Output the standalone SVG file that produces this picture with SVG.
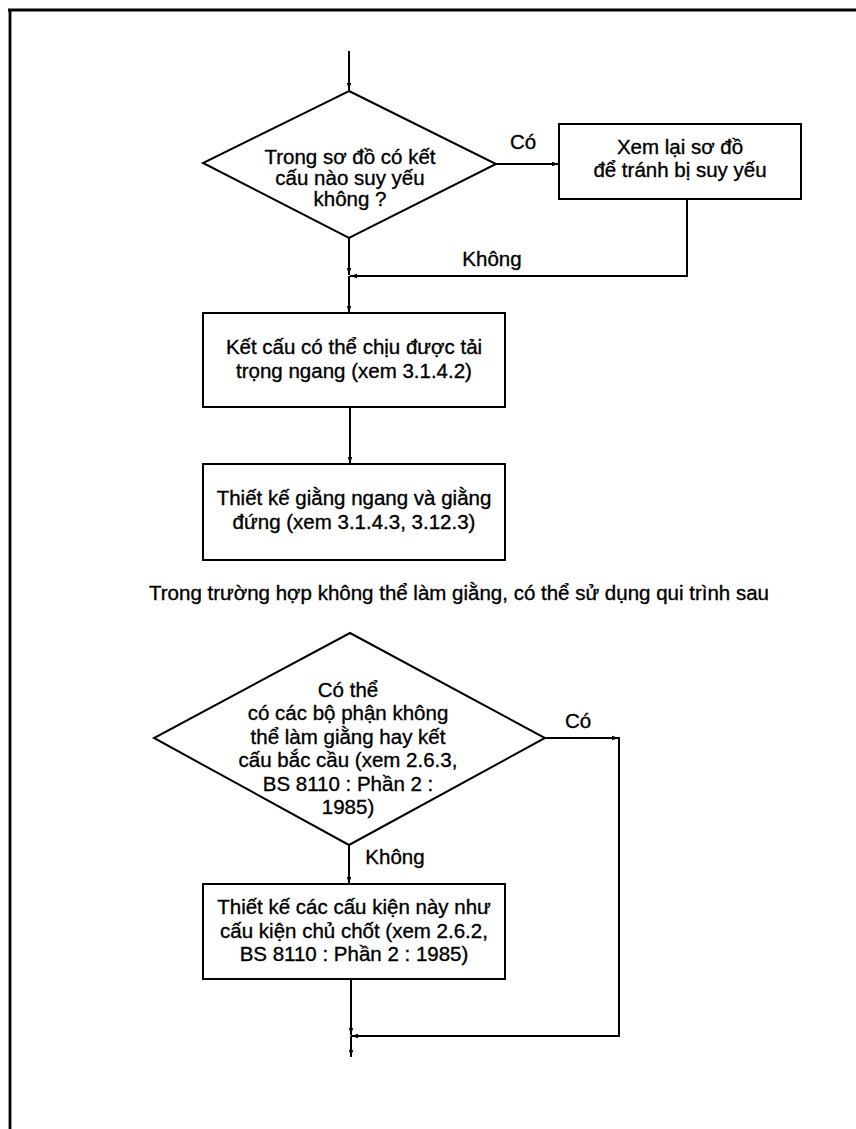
<svg xmlns="http://www.w3.org/2000/svg" width="856" height="1129" viewBox="0 0 856 1129">
<defs>
<marker id="arr" markerWidth="8" markerHeight="6" refX="7" refY="3" orient="auto" markerUnits="userSpaceOnUse">
<path d="M0,0.8 L7,3 L0,5.2 Z" fill="#000"/>
</marker>
<style>
.shape{fill:#fff;stroke:#000;stroke-width:2}
.conn{fill:none;stroke:#000;stroke-width:2}
.t{font-family:"Liberation Sans",Arial,sans-serif;font-size:20.5px;fill:#000;stroke:#000;stroke-width:0.35;text-anchor:middle}
.frame{fill:none;stroke:#000;stroke-width:2.8}
</style>
</defs>
<rect width="856" height="1129" fill="#fff"/>
<g id="frame">
<path class="frame" d="M8,10 H856 M10,9 V1129"/>
</g>
<g id="connectors">
<path class="conn" d="M349,51 V90" marker-end="url(#arr)"/>
<path class="conn" d="M496,164 H559" marker-end="url(#arr)"/>
<path class="conn" d="M687,199 V276 H350" marker-end="url(#arr)"/>
<path class="conn" d="M349,238 V275" marker-end="url(#arr)"/>
<path class="conn" d="M349,276 V313" marker-end="url(#arr)"/>
<path class="conn" d="M350,407 V464" marker-end="url(#arr)"/>
<path class="conn" d="M545,738 H619" marker-end="url(#arr)"/>
<path class="conn" d="M619,737 V1036 H351" marker-end="url(#arr)"/>
<path class="conn" d="M349,845 V884" marker-end="url(#arr)"/>
<path class="conn" d="M351,979 V1035" marker-end="url(#arr)"/>
<path class="conn" d="M351,1036 V1057" marker-end="url(#arr)"/>
</g>
<g id="labels">
<text class="t" x="523" y="149">Có</text>
<text class="t" x="492" y="266">Không</text>
<text class="t" x="578" y="728">Có</text>
<text class="t" x="395" y="864">Không</text>
</g>
<g id="decision1">
<polygon class="shape" points="349,91 496,164 349,238 203,163"/>
<text class="t" x="350" y="164">Trong sơ đồ có kết</text>
<text class="t" x="350" y="185">cấu nào suy yếu</text>
<text class="t" x="350" y="206">không ?</text>
</g>
<g id="review">
<rect class="shape" x="559" y="124" width="242" height="75"/>
<text class="t" x="680" y="154">Xem lại sơ đồ</text>
<text class="t" x="680" y="177">để tránh bị suy yếu</text>
</g>
<g id="lateral">
<rect class="shape" x="203" y="313" width="302" height="94"/>
<text class="t" x="354" y="354">Kết cấu có thể chịu được tải</text>
<text class="t" x="354" y="378">trọng ngang (xem 3.1.4.2)</text>
</g>
<g id="bracing">
<rect class="shape" x="203" y="464" width="302" height="96"/>
<text class="t" x="354" y="505">Thiết kế giằng ngang và giằng</text>
<text class="t" x="354" y="529">đứng (xem 3.1.4.3, 3.12.3)</text>
</g>
<g id="note">
<text class="t" x="459" y="600">Trong trường hợp không thể làm giằng, có thể sử dụng qui trình sau</text>
</g>
<g id="decision2">
<polygon class="shape" points="350,633 545,738 349,845 154,738"/>
<text class="t" x="348" y="697">Có thể</text>
<text class="t" x="348" y="720">có các bộ phận không</text>
<text class="t" x="348" y="744">thể làm giằng hay kết</text>
<text class="t" x="348" y="767">cấu bắc cầu (xem 2.6.3,</text>
<text class="t" x="348" y="791">BS 8110 : Phần 2 :</text>
<text class="t" x="348" y="814">1985)</text>
</g>
<g id="keyelements">
<rect class="shape" x="203" y="884" width="302" height="95"/>
<text class="t" x="354" y="914">Thiết kế các cấu kiện này như</text>
<text class="t" x="354" y="938">cấu kiện chủ chốt (xem 2.6.2,</text>
<text class="t" x="354" y="961">BS 8110 : Phần 2 : 1985)</text>
</g>
</svg>
